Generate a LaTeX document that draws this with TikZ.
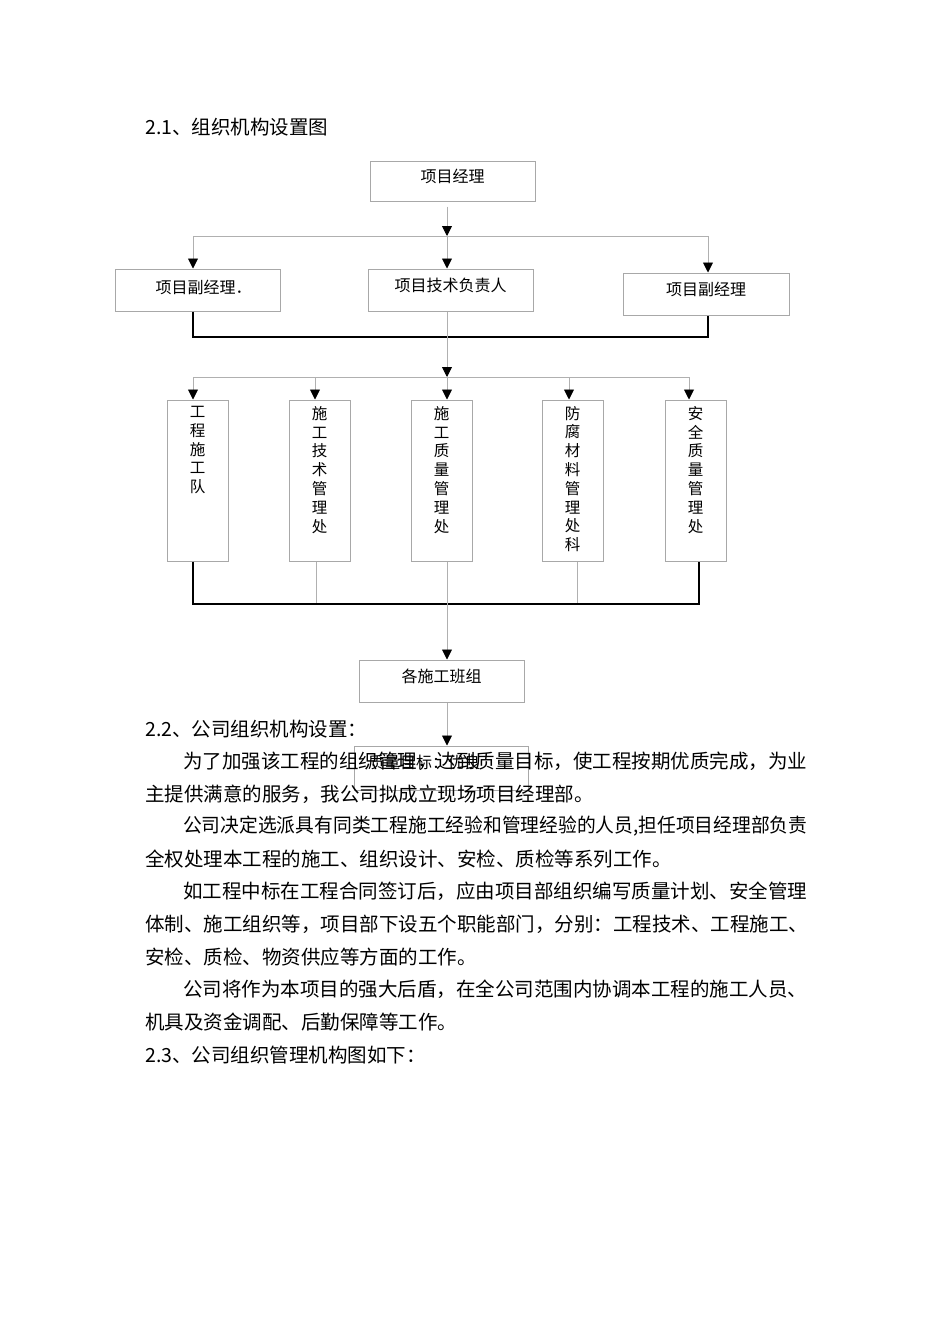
\documentclass[tikz,border=0pt]{standalone}
\usepackage{fontspec}
\setmainfont{Noto Sans CJK SC}
\usetikzlibrary{arrows.meta,calc}
\definecolor{boxgray}{HTML}{A8A8A8}
\definecolor{linegray}{HTML}{B0B0B0}
\begin{document}
\begin{tikzpicture}[x=1pt,y=-1pt,
  gbox/.style={draw=boxgray, line width=1pt, inner sep=0pt},
  wbox/.style={gbox, minimum width=165, minimum height=42},
  dbox/.style={gbox, minimum width=61, minimum height=161},
  gline/.style={draw=linegray, line width=0.9pt},
  bline/.style={draw=black, line width=1.6pt},
  arr/.style={-{Triangle[length=10pt,width=10pt,color=black]}},
  btext/.style={inner sep=0pt, font=\fontsize{16}{16}\selectfont},
  vtext/.style={inner sep=0pt, anchor=north, align=center, font=\fontsize{15.5}{18.8}\selectfont},
  body/.style={anchor=west, inner sep=0pt, font=\fontsize{19.5}{19.5}\selectfont}
]
\useasboundingbox[fill=white] (0,0) rectangle (950,1344);

% heading
\node[body] (h1) at (145,127) {2.1、组织机构设置图};

% top level
\node[gbox, minimum width=165, minimum height=40,
  label={[btext, yshift=5pt]center:项目经理}] (pm) at (452.5,181) {};
\node[wbox, label={[btext, yshift=3pt, xshift=6pt]center:项目副经理．}] (vp1) at (197.5,290) {};
\node[wbox, label={[btext, yshift=5pt]center:项目技术负责人}] (tech) at (450.5,290) {};
\node[wbox, minimum width=166, label={[btext, yshift=5pt]center:项目副经理}] (vp2) at (706,294) {};

\coordinate (j1) at (447,236);
\coordinate (jL1) at (193,236);
\coordinate (jR1) at (708,236);
\draw[gline] (jL1) -- (jR1);
\draw[gline,arr] ($(pm.south -| j1)+(0,5)$) -- (j1);
\draw[gline,arr] (jL1) -- (vp1.north -| jL1);
\draw[gline,arr] (j1) -- (tech.north -| j1);
\draw[gline,arr] (jR1) -- (vp2.north -| jR1);

\coordinate (jL2) at (193,337);
\coordinate (jR2) at (708,337);
\draw[bline] (vp1.south -| jL2) -- (jL2) -- (jR2) -- (vp2.south -| jR2);

% departments
\node[dbox] (d1) at (197.5,480.5) {};
\node[dbox] (d2) at (319.5,480.5) {};
\node[dbox] (d3) at (441.5,480.5) {};
\node[dbox] (d4) at (572.5,480.5) {};
\node[dbox] (d5) at (695.5,480.5) {};
\node[vtext] (t1) at (197.5,406) {工\\程\\施\\工\\队};
\node[vtext] (t2) at (319.5,406) {施\\工\\技\\术\\管\\理\\处};
\node[vtext] (t3) at (441.5,406) {施\\工\\质\\量\\管\\理\\处};
\node[vtext] (t4) at (572.5,406) {防\\腐\\材\\料\\管\\理\\处\\科};
\node[vtext] (t5) at (695.5,406) {安\\全\\质\\量\\管\\理\\处};

\coordinate (j2) at (447,377);
\coordinate (k1) at (193,377);
\coordinate (k2) at (315,377);
\coordinate (k4) at (569,377);
\coordinate (k5) at (689,377);
\draw[gline,arr] (tech.south -| j2) -- (j2);
\draw[gline] (k1) -- (k5);
\draw[gline,arr] (k1) -- (d1.north -| k1);
\draw[gline,arr] (k2) -- (d2.north -| k2);
\draw[gline,arr] (j2) -- (d3.north -| j2);
\draw[gline,arr] (k4) -- (d4.north -| k4);
\draw[gline,arr] (k5) -- (d5.north -| k5);

\coordinate (m1) at (193,604);
\coordinate (m2) at (316,604);
\coordinate (m3) at (447,604);
\coordinate (m4) at (577,604);
\coordinate (m5) at (699,604);
\draw[gline] (d2.south -| m2) -- (m2);
\draw[gline] (d4.south -| m4) -- (m4);
\draw[bline] (d1.south -| m1) -- (m1) -- (m5) -- (d5.south -| m5);

% teams and goal
\node[wbox, label={[btext, yshift=5pt]center:各施工班组}] (teams) at (441.5,681) {};
\draw[gline,arr] (d3.south -| m3) -- (teams.north -| m3);
\node[gbox, minimum width=174, minimum height=44,
  label={[btext, yshift=6pt, xshift=-17pt]center:质量目标：优良}] (goal) at (441,768) {};
\draw[gline,arr] (teams.south -| m3) -- (goal.north -| m3);

% text
\node[body] (p0) at (145,729) {2.2、公司组织机构设置：};
\node[body] (p1) at (183,761) {为了加强该工程的组织管理，达到质量目标，使工程按期优质完成，为业};
\node[body] (p2) at (145,794) {主提供满意的服务，我公司拟成立现场项目经理部。};
\node[body] (p3) at (183,826) {\scalebox{0.962}[1]{公司决定选派具有同类工程施工经验和管理经验的人员,担任项目经理部负责}};
\node[body] (p4) at (145,859) {全权处理本工程的施工、组织设计、安检、质检等系列工作。};
\node[body] (p5) at (183,891) {如工程中标在工程合同签订后，应由项目部组织编写质量计划、安全管理};
\node[body] (p6) at (145,924) {体制、施工组织等，项目部下设五个职能部门，分别：工程技术、工程施工、};
\node[body] (p7) at (145,957) {安检、质检、物资供应等方面的工作。};
\node[body] (p8) at (183,989) {公司将作为本项目的强大后盾，在全公司范围内协调本工程的施工人员、};
\node[body] (p9) at (145,1022) {机具及资金调配、后勤保障等工作。};
\node[body] (p10) at (145,1055) {2.3、公司组织管理机构图如下：};
\end{tikzpicture}
\end{document}
